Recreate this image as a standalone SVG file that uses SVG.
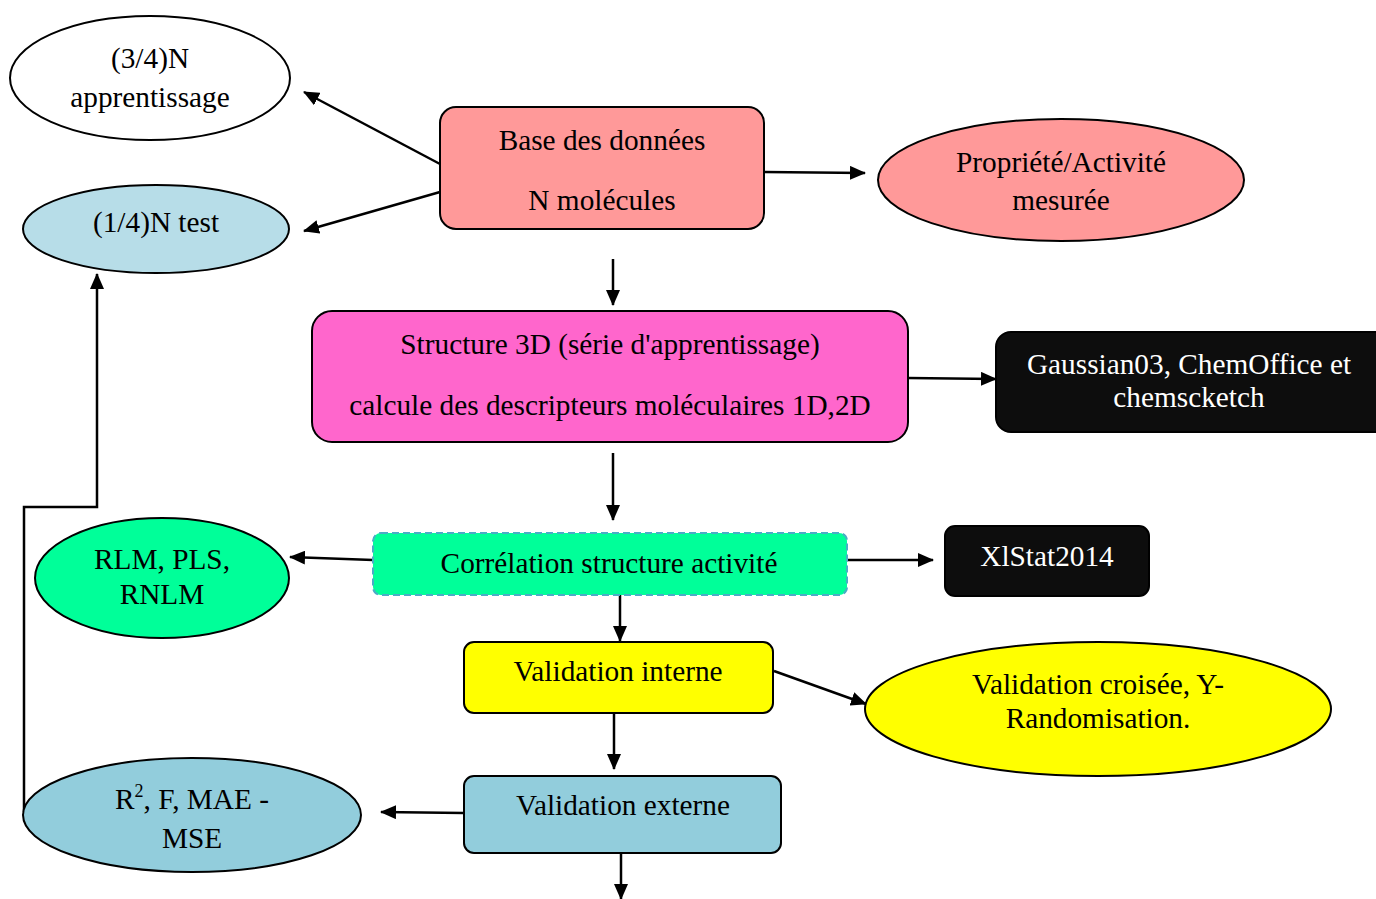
<svg xmlns="http://www.w3.org/2000/svg" width="1376" height="899" viewBox="0 0 1376 899">
<defs>
<marker id="arr" markerUnits="userSpaceOnUse" markerWidth="16" markerHeight="14" refX="15" refY="7" orient="auto">
<path d="M0,0 L16,7 L0,14 Z" fill="#000"/>
</marker>
<style>
.t{font-family:"Liberation Serif","Times New Roman",serif;font-size:29.3px;fill:#000;text-anchor:middle}
.w{fill:#fff}
.s{stroke:#000;stroke-width:2}
.c{fill:none;stroke:#000;stroke-width:2.5}
.a{marker-end:url(#arr)}
</style>
</defs>
<rect width="1376" height="899" fill="#fff"/>
<g id="connectors">
<line class="c a" x1="440" y1="164" x2="304" y2="92"/>
<line class="c a" x1="440" y1="192" x2="304" y2="231"/>
<line class="c a" x1="764" y1="172" x2="865" y2="173"/>
<line class="c a" x1="613" y1="259" x2="613" y2="305"/>
<line class="c a" x1="908" y1="378" x2="996" y2="379"/>
<line class="c a" x1="613" y1="453" x2="613" y2="520"/>
<line class="c a" x1="373" y1="560" x2="290" y2="557"/>
<line class="c a" x1="847" y1="560" x2="933" y2="560"/>
<line class="c a" x1="620" y1="595" x2="620" y2="641"/>
<line class="c a" x1="774" y1="671" x2="866" y2="704"/>
<line class="c a" x1="614" y1="713" x2="614" y2="769"/>
<line class="c a" x1="464" y1="813" x2="381" y2="812"/>
<line class="c a" x1="621" y1="846" x2="621" y2="899"/>
<polyline class="c a" points="24,812 24,507 97,507 97,274"/>
</g>
<g id="n_appr">
<ellipse cx="150" cy="78" rx="140" ry="62" fill="#fff" class="s"/>
<text class="t" x="150" y="68">(3/4)N</text>
<text class="t" x="150" y="107">apprentissage</text>
</g>
<g id="n_test">
<ellipse cx="156" cy="229" rx="133" ry="44" fill="#b7dde8" class="s"/>
<text class="t" x="156" y="232">(1/4)N test</text>
</g>
<g id="n_base">
<rect x="440" y="107" width="324" height="122" rx="16" fill="#ff9999" class="s"/>
<text class="t" x="602" y="150">Base des données</text>
<text class="t" x="602" y="210">N molécules</text>
</g>
<g id="n_prop">
<ellipse cx="1061" cy="180" rx="183" ry="61" fill="#ff9999" class="s"/>
<text class="t" x="1061" y="172">Propriété/Activité</text>
<text class="t" x="1061" y="210">mesurée</text>
</g>
<g id="n_struct">
<rect x="312" y="311" width="596" height="131" rx="20" fill="#ff66cc" class="s"/>
<text class="t" x="610" y="354">Structure 3D (série d'apprentissage)</text>
<text class="t" x="610" y="415">calcule des descripteurs moléculaires 1D,2D</text>
</g>
<g id="n_gauss">
<rect x="996" y="332" width="395" height="100" rx="15" fill="#0d0d0d" class="s"/>
<text class="t w" x="1189" y="374">Gaussian03, ChemOffice et</text>
<text class="t w" x="1189" y="407">chemscketch</text>
</g>
<g id="n_corr">
<rect x="373" y="533" width="474" height="62" rx="8" fill="#00ff99" stroke="#4bacc6" stroke-width="2" stroke-dasharray="7,4"/>
<text class="t" x="609" y="573">Corrélation structure activité</text>
</g>
<g id="n_rlm">
<ellipse cx="162" cy="578" rx="127" ry="60" fill="#00ff99" class="s"/>
<text class="t" x="162" y="569">RLM, PLS,</text>
<text class="t" x="162" y="604">RNLM</text>
</g>
<g id="n_xl">
<rect x="945" y="526" width="204" height="70" rx="10" fill="#0d0d0d" class="s"/>
<text class="t w" x="1047" y="566">XlStat2014</text>
</g>
<g id="n_vint">
<rect x="464" y="642" width="309" height="71" rx="10" fill="#ffff00" class="s"/>
<text class="t" x="618" y="681">Validation interne</text>
</g>
<g id="n_vcr">
<ellipse cx="1098" cy="709" rx="233" ry="67" fill="#ffff00" class="s"/>
<text class="t" x="1098" y="694">Validation croisée, Y-</text>
<text class="t" x="1098" y="728">Randomisation.</text>
</g>
<g id="n_vext">
<rect x="464" y="776" width="317" height="77" rx="10" fill="#92cddc" class="s"/>
<text class="t" x="623" y="815">Validation externe</text>
</g>
<g id="n_r2">
<ellipse cx="192" cy="815" rx="169" ry="57" fill="#92cddc" class="s"/>
<text class="t" x="192" y="809">R<tspan font-size="18" dy="-12">2</tspan><tspan dy="12">, F, MAE -</tspan></text>
<text class="t" x="192" y="848">MSE</text>
</g>
</svg>
